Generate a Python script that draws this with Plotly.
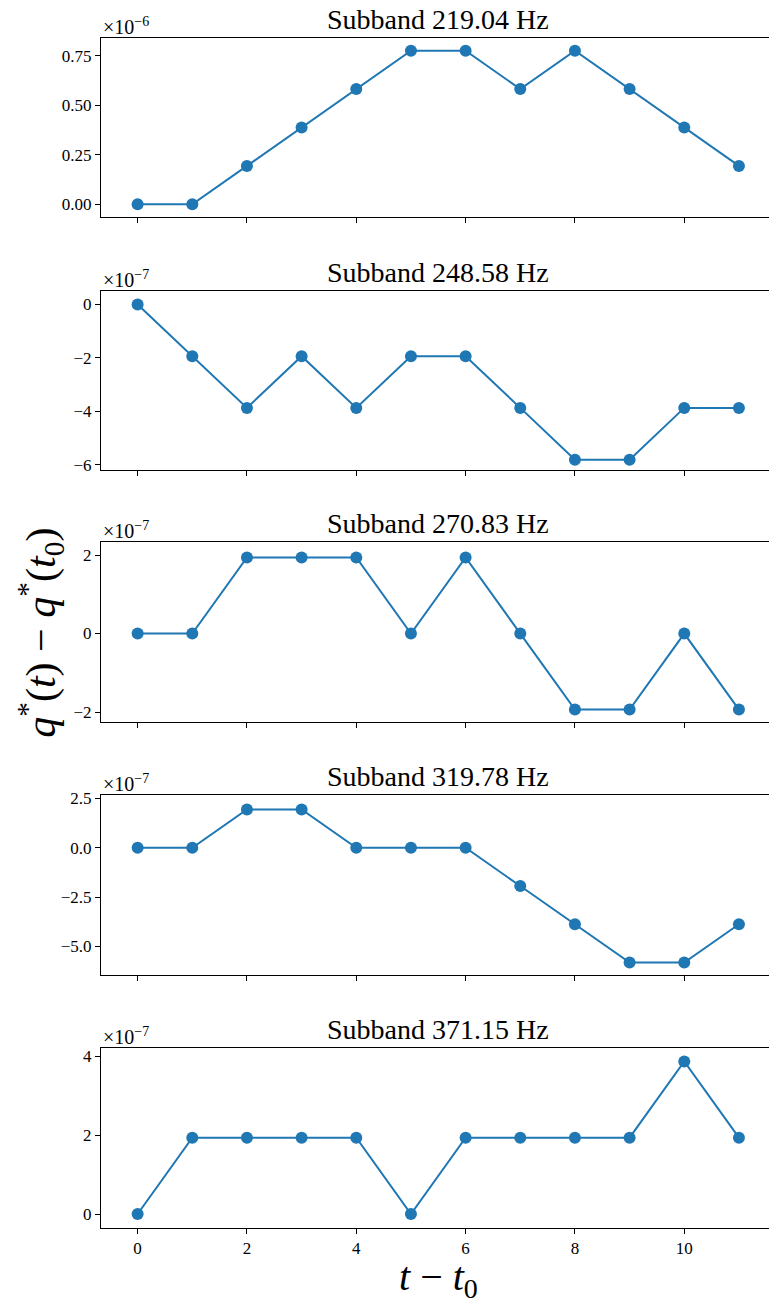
import plotly.graph_objects as go

t = list(range(12))
titles = ["Subband 219.04 Hz", "Subband 248.58 Hz", "Subband 270.83 Hz",
          "Subband 319.78 Hz", "Subband 371.15 Hz"]
exponents = ["−6", "−7", "−7", "−7", "−7"]
# values in units of the axis multiplier (×10^exp)
s1 = [0.0, 0.0, 0.1937, 0.3873, 0.5810, 0.7746, 0.7746, 0.5810, 0.7746, 0.5810, 0.3873, 0.1937]
s2 = [0.0, -1.937, -3.873, -1.937, -3.873, -1.937, -1.937, -3.873, -5.810, -5.810, -3.873, -3.873]
s3 = [0.0, 0.0, 1.937, 1.937, 1.937, 0.0, 1.937, 0.0, -1.937, -1.937, 0.0, -1.937]
s4 = [0.0, 0.0, 1.937, 1.937, 0.0, 0.0, 0.0, -1.937, -3.873, -5.810, -5.810, -3.873]
s5 = [0.0, 1.937, 1.937, 1.937, 1.937, 0.0, 1.937, 1.937, 1.937, 1.937, 3.873, 1.937]
series = [s1, s2, s3, s4, s5]
ytickvals = [[0, 0.25, 0.5, 0.75], [0, -2, -4, -6], [-2, 0, 2], [-5, -2.5, 0, 2.5], [0, 2, 4]]
yticktext = [["0.00", "0.25", "0.50", "0.75"], ["0", "−2", "−4", "−6"], ["−2", "0", "2"],
             ["−5.0", "−2.5", "0.0", "2.5"], ["0", "2", "4"]]
yranges = [[-0.065, 0.84], [-6.2, 0.52], [-2.25, 2.32], [-6.43, 2.66], [-0.345, 4.21]]
xticks = [0, 2, 4, 6, 8, 10]

# the original axes extend slightly past the 769px window (right spine cropped)
W, H = 776, 1303
LEFT = 101
tops = [32, 287, 541, 796, 1051]
ph = 181
color = "#1f77b4"
font = "Liberation Serif, DejaVu Serif, serif"

fig = go.Figure()
annotations = []
for i, (ys, ttl) in enumerate(zip(series, titles)):
    n = i + 1
    xa = "x" if n == 1 else f"x{n}"
    ya = "y" if n == 1 else f"y{n}"
    fig.add_trace(go.Scatter(x=t, y=ys, mode="lines+markers", xaxis=xa, yaxis=ya,
                             line=dict(color=color, width=2),
                             marker=dict(color=color, size=12), showlegend=False))
    top, bot = tops[i], tops[i] + ph
    dom = [(H - bot) / H, (H - top) / H]
    common = dict(showgrid=False, zeroline=False, showline=True, linecolor="black", linewidth=1.2,
                  ticks="outside", ticklen=5, tickwidth=1.2, tickcolor="black",
                  tickfont=dict(family=font, size=17, color="black"))
    fig.layout[("xaxis" if n == 1 else f"xaxis{n}")] = dict(
        domain=[0, 1], anchor=ya, range=[-0.67, 11.66], tickvals=xticks,
        showticklabels=(n == 5), mirror=True, **common)
    fig.layout[("yaxis" if n == 1 else f"yaxis{n}")] = dict(
        domain=dom, anchor=xa, range=yranges[i], tickvals=ytickvals[i], ticktext=yticktext[i],
        mirror=True, **common)
    annotations.append(dict(text=ttl, x=0.5, xref="paper",
                            y=(H - top) / H, yref="paper", yanchor="bottom", xanchor="center",
                            showarrow=False, yshift=1, font=dict(family=font, size=28, color="black")))
    annotations.append(dict(text=f"×10<sup>{exponents[i]}</sup>", x=0, xref="paper",
                            y=(H - top) / H, yref="paper", yanchor="bottom", xanchor="left",
                            showarrow=False, yshift=-2, font=dict(family=font, size=20, color="black")))

plot_w = W - LEFT
annotations.append(dict(text="<i>q</i><sup>*</sup>(<i>t</i>) − <i>q</i><sup>*</sup>(<i>t</i><sub>0</sub>)",
                        x=(40 - LEFT) / plot_w, xref="paper", y=(H - 632) / H, yref="paper",
                        xanchor="center", yanchor="middle",
                        textangle=-90, showarrow=False, font=dict(family=font, size=42, color="black")))
annotations.append(dict(text="<i>t</i> − <i>t</i><sub>0</sub>", x=0.5,
                        xref="paper", y=(H - 1284) / H, yref="paper",
                        xanchor="center", yanchor="middle", showarrow=False, borderpad=0,
                        font=dict(family=font, size=40, color="black")))

fig.update_layout(width=W, height=H, margin=dict(l=LEFT, r=0, t=0, b=0),
                  paper_bgcolor="white", plot_bgcolor="white", annotations=annotations)
fig.write_html("out.html", config={"displayModeBar": False},
               post_script="document.body.style.margin='0';document.body.style.overflow='hidden';"
                           "document.documentElement.style.overflow='hidden';")
